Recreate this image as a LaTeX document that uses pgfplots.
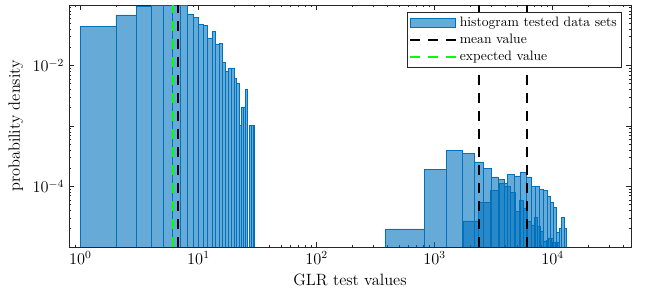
\documentclass[border=0pt]{standalone}
\usepackage{pgfplots}
\pgfplotsset{compat=1.18}
\definecolor{mblue}{rgb}{0,0.447,0.741}
\definecolor{axgray}{rgb}{0.15,0.15,0.15}
\definecolor{egreen}{rgb}{0,1,0}
\begin{document}
\begin{tikzpicture}
\begin{axis}[
  at={(0,0)}, anchor=south west,
  scale only axis, width=412.3pt, height=177.5pt,
  xmode=log, ymode=log,
  xmin=0.8, xmax=46000, ymin=1e-5, ymax=0.1,
  log origin y=infty,
  xtick={1,10,100,1000,10000},
  minor xtick={0.8,0.9,2,3,4,5,6,7,8,9,20,30,40,50,60,70,80,90,200,300,400,500,600,700,800,900,2000,3000,4000,5000,6000,7000,8000,9000,20000,30000,40000},
  ytick={1e-5,1e-4,1e-3,1e-2,1e-1},
  yticklabels={{},{$10^{-4}$},{},{$10^{-2}$},{}},
  minor ytick={2e-5,3e-5,4e-5,5e-5,6e-5,7e-5,8e-5,9e-5,2e-4,3e-4,4e-4,5e-4,6e-4,7e-4,8e-4,9e-4,2e-3,3e-3,4e-3,5e-3,6e-3,7e-3,8e-3,9e-3,2e-2,3e-2,4e-2,5e-2,6e-2,7e-2,8e-2,9e-2},
  tick align=inside,
  major tick length=3.5pt, minor tick length=1.8pt,
  every tick/.style={axgray, line width=0.5pt},
  axis line style={axgray, line width=0.6pt},
  tick label style={font=\large},
  label style={font=\large},
  xlabel={GLR test values}, ylabel={probability density},
  legend style={at={(rel axis cs:0.984,0.971)}, anchor=north east, draw=axgray, line width=0.5pt, legend cell align=left, inner sep=1.5pt},
]
% histogram of low values (bins of width 1 from 1 to 30)
\addplot[ybar interval, fill=mblue, fill opacity=0.6, draw=mblue, line width=0.5pt,
  legend image code/.code={\draw[fill=mblue,fill opacity=0.6,draw=mblue,line width=0.5pt] (0pt,-3.6pt) rectangle (33pt,3.6pt);}]
table[x=x,y=y]{
x y
1 0.0438
2 0.0684
3 0.0962
4 0.104
5 0.103
6 0.101
7 0.097
8 0.071
9 0.0626
10 0.0485
11 0.0467
12 0.0282
13 0.0362
14 0.0226
15 0.0233
16 0.0113
17 0.0081
18 0.0091
19 0.0091
20 0.00614
21 0.00508
22 0.00104
23 0.00206
24 0.00206
25 0.00405
26 1e-7
27 0.00101
28 0.00101
29 0.00101
30 0.00101
};
\addlegendentry{histogram tested data sets}
% histogram A (high values)
\addplot[ybar interval, fill=mblue, fill opacity=0.6, draw=mblue, line width=0.5pt, forget plot]
table[x=x,y=y]{
x y
380 1.99e-5
822 1.92e-4
1264 3.96e-4
1706 3.54e-4
2148 2.54e-4
2590 2.0e-4
3032 1.44e-4
3474 1.32e-4
3916 1.0e-4
4358 8.0e-5
4800 3.84e-5
5242 5.98e-5
5684 4.42e-5
6126 2.66e-5
6568 2.31e-5
7010 3.05e-5
7452 2.17e-5
7894 1.79e-5
8336 1.26e-5
8778 1.3e-5
9220 1.41e-5
9662 1.41e-5
10104 1.2e-5
10546 1e-7
10988 1.2e-5
11430 1e-7
11872 1e-7
12314 1e-7
12756 1e-7
13198 1e-7
};
% histogram B (high values)
\addplot[ybar interval, fill=mblue, fill opacity=0.6, draw=mblue, line width=0.5pt, forget plot]
table[x=x,y=y]{
x y
1757 2.69e-5
2355 5.48e-5
2953 8.65e-5
3551 1.13e-4
4149 1.59e-4
4747 1.49e-4
5345 1.72e-4
5943 1.44e-4
6541 9.93e-5
7139 9.9e-5
7737 9.0e-5
8335 8.65e-5
8933 6.89e-5
9531 5.39e-5
10129 4.53e-5
10727 1.72e-5
11325 2.04e-5
11923 3.10e-5
12521 2.04e-5
13119 2.04e-5
};
% mean values
\addplot[black, line width=1.5pt, dash pattern=on 7.3pt off 5.9pt,
  legend image code/.code={\draw[black, line width=1.5pt, dash pattern=on 7.3pt off 5.9pt] (0pt,0pt) -- (33.7pt,0pt);}]
coordinates {(6.74,1e-5) (6.74,0.1)};
\addlegendentry{mean value}
\addplot[black, line width=1.5pt, dash pattern=on 7.3pt off 5.9pt, forget plot]
coordinates {(2360,1e-5) (2360,0.1)};
\addplot[black, line width=1.5pt, dash pattern=on 7.3pt off 5.9pt, forget plot]
coordinates {(6110,1e-5) (6110,0.1)};
% expected value
\addplot[egreen, line width=1.5pt, dash pattern=on 7.3pt off 5.9pt,
  legend image code/.code={\draw[egreen, line width=1.5pt, dash pattern=on 7.3pt off 5.9pt] (0pt,0pt) -- (33.7pt,0pt);}]
coordinates {(6.04,1e-5) (6.04,0.1)};
\addlegendentry{expected value}
\end{axis}
\pgfresetboundingbox
\path (-50.6pt,-33.75pt) rectangle (424.8pt,181.17pt);
\end{tikzpicture}
\end{document}
